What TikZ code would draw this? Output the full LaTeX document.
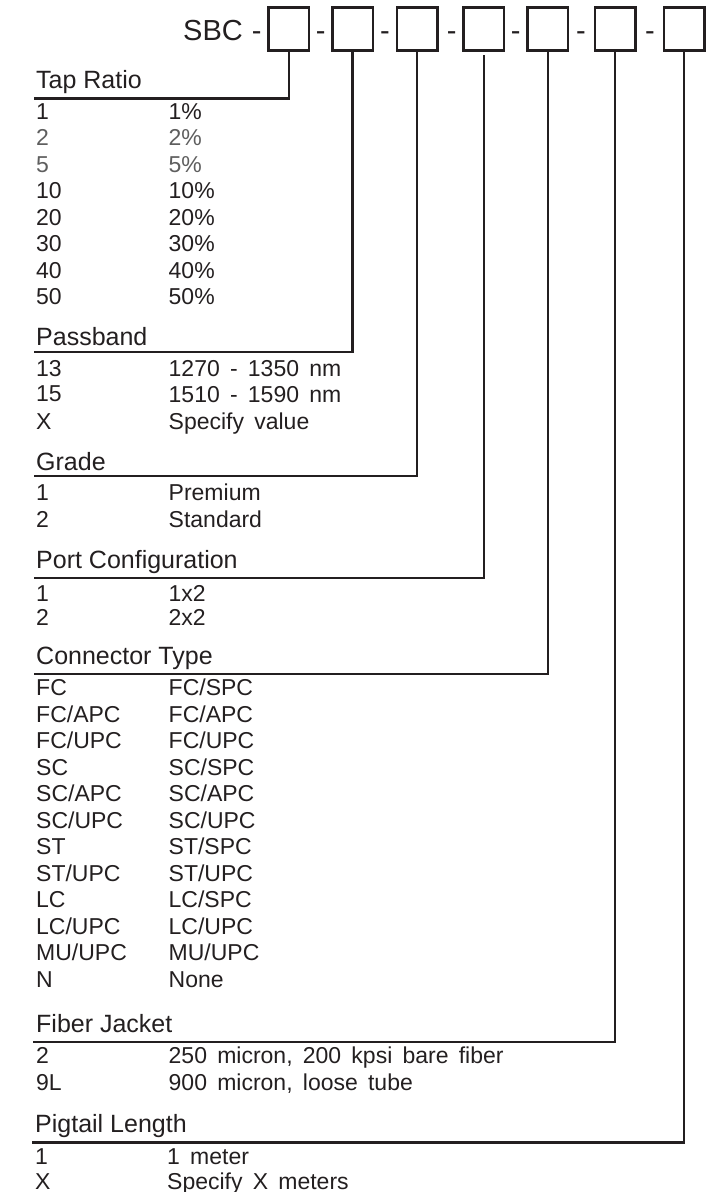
\documentclass[tikz,border=0pt]{standalone}
\usepackage{fontspec}
\setmainfont{Liberation Sans}
\newfontfamily\rowfont[WordSpace=1.6]{Liberation Sans}
\definecolor{ink}{HTML}{231F20}
\definecolor{inkgray}{HTML}{5E5E5E}
\tikzset{
    codebox/.style={draw=ink, line width=2.5pt, minimum width=40.5pt, minimum height=43pt, inner sep=0pt},
    sep/.style={anchor=base, inner sep=0pt, text=ink, font=\fontsize{29}{34}\selectfont},
    hdr/.style={anchor=base west, inner sep=0pt, text=ink, font=\fontsize{25}{30}\selectfont},
    row/.style={anchor=base west, inner sep=0pt, text=ink, font=\rowfont\fontsize{23}{28}\selectfont},
    rowgray/.style={row, text=inkgray},
    lead/.style={draw=ink, line width=2.4pt},
}
\begin{document}
\begin{tikzpicture}[x=1pt, y=-1pt]
    \useasboundingbox (0,0) rectangle (719,1192);

        % code boxes
        \node[anchor=base west, inner sep=0pt, text=ink, font=\fontsize{29}{34}\selectfont] (sbc) at (183,40.7) {SBC};
        \node[codebox] (b1) at (288.9,29) {};
        \node[codebox] (b2) at (352.5,29) {};
        \node[codebox] (b3) at (417.0,29) {};
        \node[codebox] (b4) at (483.7,29) {};
        \node[codebox] (b5) at (547.9,29) {};
        \node[codebox] (b6) at (615.0,29) {};
        \node[codebox] (b7) at (684.0,29) {};

        \node[sep] (d0) at (256.7,40.7) {-};
        \node[sep] (d1) at (320.7,40.7) {-};
        \node[sep] (d2) at (385.0,40.7) {-};
        \node[sep] (d3) at (451.7,40.7) {-};
        \node[sep] (d4) at (515.7,40.7) {-};
        \node[sep] (d5) at (581.0,40.7) {-};
        \node[sep] (d6) at (650.0,40.7) {-};

        % ends of the heading lines
        \coordinate (tapend)  at (34,98.3);
        \coordinate (passend) at (34,351.7);
        \coordinate (gradeend) at (34,476);
        \coordinate (portend) at (34,578);
        \coordinate (connend) at (34,674);
        \coordinate (fiberend) at (33,1041.7);
        \coordinate (pigend)  at (32,1142.3);

        % leader lines
        \draw[lead] (b1.south) |- (tapend);
        \draw[lead] (b2.south) |- (passend);
        \draw[lead] (b3.south) |- (gradeend);
        \draw[lead] ([yshift=-3.5pt]b4.south) |- (portend);
        \draw[lead] (b5.south) |- (connend);
        \draw[lead] (b6.south) |- (fiberend);
        \draw[lead] (b7.south) |- (pigend);

        % Tap Ratio
        \node[hdr] (tap) at (36,88.3) {Tap Ratio};
        \node[row] (tap1a) at (36,119) {1};      \node[row] (tap1b) at (168.5,119) {1\%};
        \node[rowgray] (tap2a) at (36,145.5) {2}; \node[rowgray] (tap2b) at (168.5,145.5) {2\%};
        \node[rowgray] (tap3a) at (36,172) {5};   \node[rowgray] (tap3b) at (168.5,172) {5\%};
        \node[row] (tap4a) at (36,198.5) {10};   \node[row] (tap4b) at (168.5,198.5) {10\%};
        \node[row] (tap5a) at (36,225) {20};     \node[row] (tap5b) at (168.5,225) {20\%};
        \node[row] (tap6a) at (36,251.5) {30};   \node[row] (tap6b) at (168.5,251.5) {30\%};
        \node[row] (tap7a) at (36,278) {40};     \node[row] (tap7b) at (168.5,278) {40\%};
        \node[row] (tap8a) at (36,304.5) {50};   \node[row] (tap8b) at (168.5,304.5) {50\%};

        % Passband
        \node[hdr] (pass) at (36,345) {Passband};
        \node[row] (pass1a) at (36,376.7) {13};  \node[row] (pass1b) at (168.5,376.7) {1270 - 1350 nm};
        \node[row] (pass2a) at (36,401.5) {15};  \node[row] (pass2b) at (168.5,402.5) {1510 - 1590 nm};
        \node[row] (pass3a) at (36,429.3) {X};   \node[row] (pass3b) at (168.5,429.3) {Specify value};

        % Grade
        \node[hdr] (grade) at (36,470) {Grade};
        \node[row] (grade1a) at (36,500.5) {1};  \node[row] (grade1b) at (168.5,500.5) {Premium};
        \node[row] (grade2a) at (36,527) {2};    \node[row] (grade2b) at (168.5,527) {Standard};

        % Port Configuration
        \node[hdr] (port) at (36,568.3) {Port Configuration};
        \node[row] (port1a) at (36,601.7) {1};   \node[row] (port1b) at (168.5,601.7) {1x2};
        \node[row] (port2a) at (36,625.7) {2};   \node[row] (port2b) at (168.5,625.7) {2x2};

        % Connector Type
        \node[hdr] (conn) at (36,664) {Connector Type};
        \node[row] (conn1a) at (36,695.7) {FC};       \node[row] (conn1b) at (168.5,695.7) {FC/SPC};
        \node[row] (conn2a) at (36,722.2) {FC/APC};   \node[row] (conn2b) at (168.5,722.2) {FC/APC};
        \node[row] (conn3a) at (36,748.7) {FC/UPC};   \node[row] (conn3b) at (168.5,748.7) {FC/UPC};
        \node[row] (conn4a) at (36,775.2) {SC};       \node[row] (conn4b) at (168.5,775.2) {SC/SPC};
        \node[row] (conn5a) at (36,801.7) {SC/APC};   \node[row] (conn5b) at (168.5,801.7) {SC/APC};
        \node[row] (conn6a) at (36,828.2) {SC/UPC};   \node[row] (conn6b) at (168.5,828.2) {SC/UPC};
        \node[row] (conn7a) at (36,854.7) {ST};       \node[row] (conn7b) at (168.5,854.7) {ST/SPC};
        \node[row] (conn8a) at (36,881.2) {ST/UPC};   \node[row] (conn8b) at (168.5,881.2) {ST/UPC};
        \node[row] (conn9a) at (36,907.7) {LC};       \node[row] (conn9b) at (168.5,907.7) {LC/SPC};
        \node[row] (conn10a) at (36,934.2) {LC/UPC};  \node[row] (conn10b) at (168.5,934.2) {LC/UPC};
        \node[row] (conn11a) at (36,960.7) {MU/UPC};  \node[row] (conn11b) at (168.5,960.7) {MU/UPC};
        \node[row] (conn12a) at (36,987.2) {N};       \node[row] (conn12b) at (168.5,987.2) {None};

        % Fiber Jacket
        \node[hdr] (fiber) at (36,1032.3) {Fiber Jacket};
        \node[row] (fiber1a) at (36,1063.3) {2};  \node[row] (fiber1b) at (168.5,1063.3) {250 micron, 200 kpsi bare fiber};
        \node[row] (fiber2a) at (36,1090) {9L};   \node[row] (fiber2b) at (168.5,1090) {900 micron, loose tube};

        % Pigtail Length
        \node[hdr] (pig) at (35,1132.7) {Pigtail Length};
        \node[row] (pig1a) at (35,1164) {1};      \node[row] (pig1b) at (167,1164) {1 meter};
        \node[row] (pig2a) at (35,1189.5) {X};    \node[row] (pig2b) at (167,1189.5) {Specify X meters};
    \end{tikzpicture}
\end{document}
